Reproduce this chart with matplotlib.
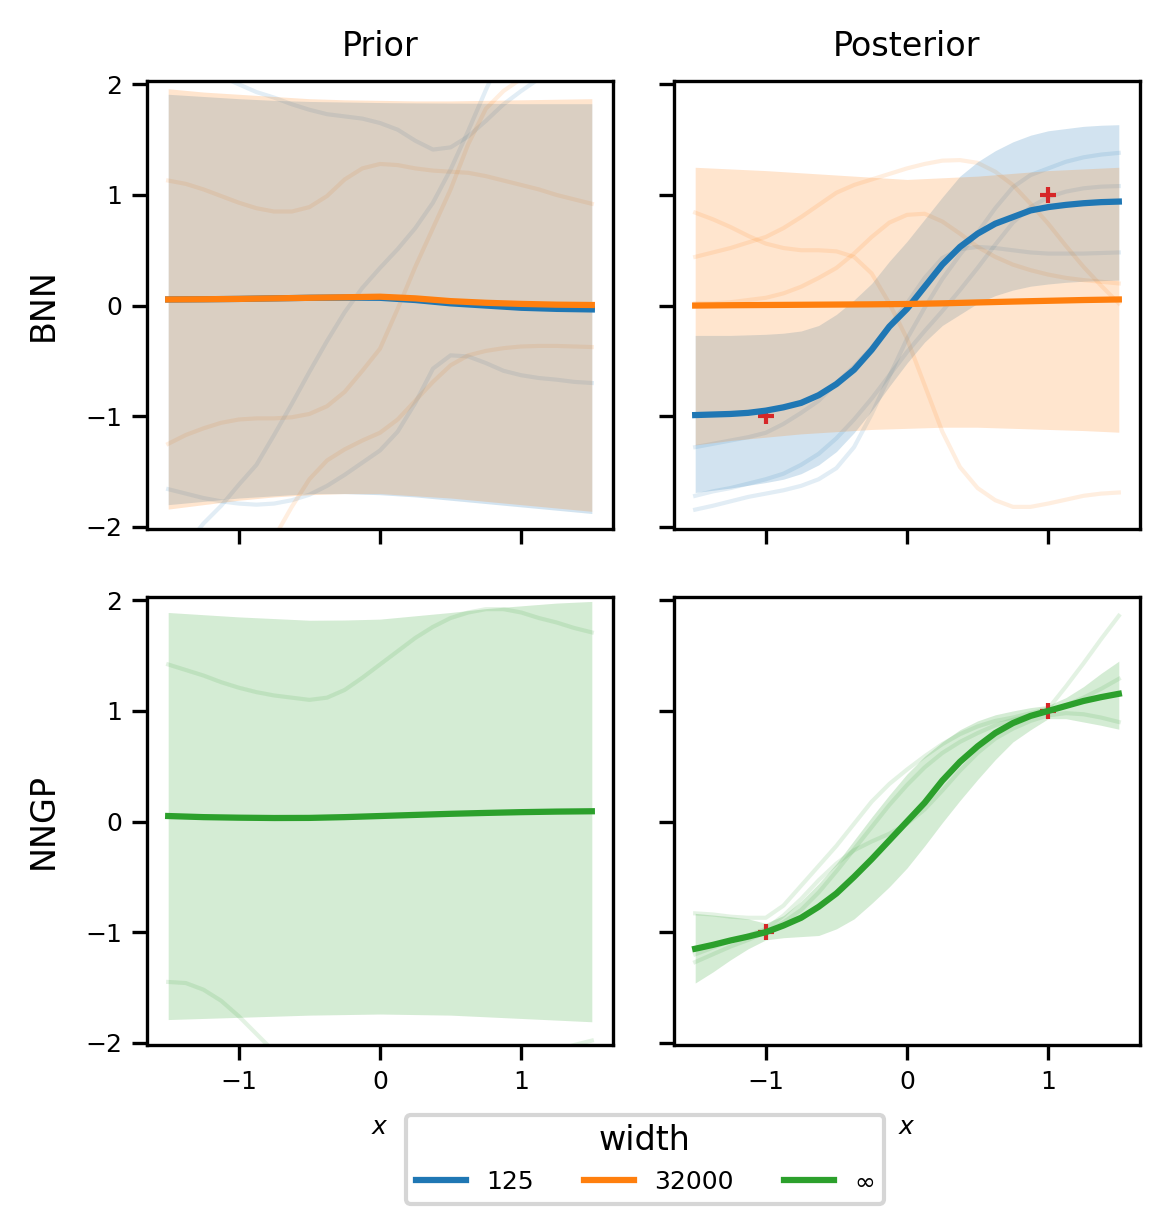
import numpy as np
import matplotlib
matplotlib.use("Agg")
import matplotlib.pyplot as plt

# ---------------- data ----------------
x13 = [-1.5, -1.25, -1.0, -0.75, -0.5, -0.25, 0.0, 0.25, 0.5, 0.75, 1.0, 1.25, 1.5]
x25 = [-1.5, -1.375, -1.25, -1.125, -1.0, -0.875, -0.75, -0.625, -0.5, -0.375, -0.25, -0.125,
       0.0, 0.125, 0.25, 0.375, 0.5, 0.625, 0.75, 0.875, 1.0, 1.125, 1.25, 1.375, 1.5]

x_obs = [-1.0, 1.0]
y_obs = [-1.0, 1.0]

width_labels = ["125", "32000", "$\\infty$"]
row_labels = ["BNN", "NNGP"]
col_titles = ["Prior", "Posterior"]

# BNN prior (width 125 / 32000)
prior_mean_125 = [0.055, 0.057, 0.06, 0.065, 0.07, 0.072, 0.07, 0.05, 0.02, 0.0, -0.02, -0.03, -0.035]
prior_upper_125 = [1.91, 1.89, 1.87, 1.855, 1.845, 1.84, 1.835, 1.832, 1.83, 1.828, 1.825, 1.825, 1.825]
prior_lower_125 = [-1.80, -1.77, -1.74, -1.72, -1.70, -1.70, -1.71, -1.73, -1.76, -1.79, -1.82, -1.85, -1.88]
prior_mean_32000 = [0.055, 0.057, 0.06, 0.065, 0.07, 0.075, 0.08, 0.065, 0.04, 0.025, 0.015, 0.008, 0.005]
prior_upper_32000 = [1.96, 1.93, 1.91, 1.89, 1.87, 1.86, 1.855, 1.85, 1.85, 1.855, 1.86, 1.865, 1.87]
prior_lower_32000 = [-1.84, -1.80, -1.76, -1.73, -1.71, -1.70, -1.70, -1.72, -1.74, -1.77, -1.80, -1.83, -1.86]

prior_samples_125 = [
    [2.3, 2.22, 2.15, 2.07, 2.0, 1.93, 1.88, 1.82, 1.77, 1.73, 1.71, 1.69, 1.65,
     1.59, 1.49, 1.41, 1.43, 1.53, 1.67, 1.82, 1.94, 2.05, 2.15, 2.25, 2.35],
    [-2.4, -2.17, -1.97, -1.81, -1.62, -1.44, -1.17, -0.89, -0.60, -0.32, -0.06, 0.16, 0.34,
     0.51, 0.70, 0.93, 1.23, 1.58, 1.95, 2.3, 2.6, 2.85, 3.0, 3.1, 3.2],
    [-1.66, -1.70, -1.74, -1.77, -1.79, -1.80, -1.79, -1.76, -1.71, -1.63, -1.53, -1.42, -1.31,
     -1.14, -0.88, -0.57, -0.45, -0.46, -0.52, -0.59, -0.63, -0.655, -0.67, -0.69, -0.70],
]
prior_samples_32000 = [
    [1.13, 1.10, 1.05, 0.99, 0.93, 0.88, 0.85, 0.85, 0.89, 0.99, 1.14, 1.24, 1.28,
     1.27, 1.24, 1.22, 1.21, 1.20, 1.17, 1.13, 1.09, 1.05, 1.00, 0.96, 0.92],
    [-1.25, -1.17, -1.11, -1.06, -1.03, -1.02, -1.02, -1.01, -0.98, -0.91, -0.78, -0.59, -0.39,
     -0.03, 0.35, 0.70, 1.05, 1.46, 1.78, 1.94, 2.05, 2.12, 2.18, 2.24, 2.3],
    [-3.4, -3.15, -2.9, -2.65, -2.45, -2.25, -2.1, -1.82, -1.57, -1.40, -1.30, -1.22, -1.15,
     -1.03, -0.86, -0.69, -0.54, -0.45, -0.41, -0.385, -0.37, -0.365, -0.365, -0.37, -0.375],
]

# BNN posterior
post_mean_125 = [-0.99, -0.985, -0.98, -0.97, -0.95, -0.92, -0.88, -0.81, -0.71, -0.58, -0.40, -0.19,
                 -0.03, 0.17, 0.37, 0.53, 0.65, 0.74, 0.80, 0.86, 0.89, 0.91, 0.925, 0.935, 0.94]
post_upper_125 = [-0.27, -0.27, -0.27, -0.265, -0.26, -0.25, -0.23, -0.18, -0.08, 0.05, 0.20, 0.40,
                  0.58, 0.78, 0.98, 1.17, 1.30, 1.40, 1.48, 1.54, 1.58, 1.60, 1.62, 1.63, 1.635]
post_lower_125 = [-1.69, -1.67, -1.65, -1.625, -1.60, -1.57, -1.52, -1.44, -1.32, -1.15, -0.95, -0.73,
                  -0.52, -0.33, -0.18, -0.08, 0.02, 0.09, 0.14, 0.175, 0.195, 0.21, 0.22, 0.225, 0.23]
post_mean_32000 = [0.0, 0.003, 0.005, 0.007, 0.009, 0.011, 0.014, 0.02, 0.028, 0.036, 0.043, 0.05, 0.055]
post_upper_32000 = [1.25, 1.235, 1.22, 1.20, 1.18, 1.16, 1.14, 1.155, 1.17, 1.195, 1.22, 1.235, 1.25]
post_lower_32000 = [-1.26, -1.22, -1.19, -1.16, -1.14, -1.12, -1.11, -1.10, -1.10, -1.11, -1.12, -1.13, -1.145]

post_samples_125 = [
    [-1.28, -1.25, -1.22, -1.19, -1.15, -1.07, -0.97, -0.86, -0.70, -0.55, -0.38, -0.18, 0.02,
     0.25, 0.43, 0.51, 0.53, 0.52, 0.50, 0.48, 0.47, 0.47, 0.47, 0.475, 0.48],
    [-1.72, -1.68, -1.65, -1.61, -1.57, -1.52, -1.44, -1.34, -1.20, -1.03, -0.84, -0.63, -0.42,
     -0.23, -0.05, 0.14, 0.34, 0.55, 0.75, 0.89, 0.98, 1.03, 1.06, 1.075, 1.08],
    [-1.845, -1.81, -1.77, -1.73, -1.70, -1.67, -1.63, -1.57, -1.47, -1.28, -0.98, -0.64, -0.30,
     -0.02, 0.24, 0.46, 0.66, 0.88, 1.07, 1.18, 1.24, 1.30, 1.34, 1.365, 1.38],
]
post_samples_32000 = [
    [0.84, 0.78, 0.71, 0.63, 0.56, 0.52, 0.50, 0.50, 0.49, 0.44, 0.29, 0.02, -0.30,
     -0.72, -1.14, -1.46, -1.65, -1.76, -1.82, -1.82, -1.79, -1.755, -1.72, -1.70, -1.69],
    [0.44, 0.48, 0.52, 0.57, 0.62, 0.70, 0.80, 0.91, 1.02, 1.09, 1.14, 1.19, 1.24,
     1.28, 1.31, 1.315, 1.29, 1.21, 1.09, 0.92, 0.74, 0.54, 0.35, 0.18, 0.02],
    [0.02, 0.02, 0.03, 0.05, 0.07, 0.11, 0.17, 0.25, 0.34, 0.47, 0.62, 0.75, 0.82,
     0.83, 0.76, 0.65, 0.53, 0.44, 0.37, 0.32, 0.28, 0.25, 0.23, 0.215, 0.20],
]

# NNGP prior
prior_mean_inf = [0.05, 0.04, 0.035, 0.032, 0.033, 0.04, 0.05, 0.06, 0.07, 0.078, 0.085, 0.09, 0.093]
prior_upper_inf = [1.89, 1.87, 1.85, 1.835, 1.82, 1.822, 1.83, 1.86, 1.89, 1.925, 1.95, 1.975, 1.99]
prior_lower_inf = [-1.79, -1.78, -1.77, -1.76, -1.75, -1.745, -1.74, -1.745, -1.75, -1.765, -1.78, -1.795, -1.81]
prior_samples_inf = [
    [1.42, 1.37, 1.32, 1.26, 1.21, 1.17, 1.14, 1.12, 1.10, 1.12, 1.19, 1.30, 1.42,
     1.54, 1.66, 1.76, 1.84, 1.89, 1.92, 1.92, 1.89, 1.84, 1.80, 1.75, 1.71],
    [-1.45, -1.46, -1.52, -1.62, -1.76, -1.92, -2.08, -2.25, -2.4, -2.55, -2.65, -2.72, -2.75,
     -2.75, -2.72, -2.68, -2.62, -2.53, -2.43, -2.32, -2.22, -2.14, -2.07, -2.02, -1.98],
]

# NNGP posterior
post_mean_inf = [-1.15, -1.115, -1.075, -1.04, -1.0, -0.94, -0.87, -0.77, -0.65, -0.50, -0.34, -0.17,
                 0.0, 0.17, 0.37, 0.54, 0.68, 0.80, 0.89, 0.955, 1.0, 1.045, 1.09, 1.125, 1.155]
post_upper_inf = [-0.83, -0.845, -0.86, -0.88, -0.92, -0.85, -0.72, -0.56, -0.38, -0.17, 0.04, 0.24,
                  0.43, 0.59, 0.72, 0.83, 0.91, 0.965, 1.0, 1.03, 1.05, 1.12, 1.22, 1.34, 1.45]
post_lower_inf = [-1.46, -1.36, -1.25, -1.15, -1.07, -1.05, -1.04, -1.03, -0.97, -0.88, -0.74, -0.59,
                  -0.42, -0.22, -0.01, 0.19, 0.38, 0.56, 0.72, 0.83, 0.93, 0.93, 0.90, 0.87, 0.835]
post_samples_inf = [
    [-0.83, -0.84, -0.86, -0.87, -0.87, -0.76, -0.58, -0.40, -0.22, -0.02, 0.18, 0.34, 0.47,
     0.59, 0.70, 0.79, 0.86, 0.91, 0.94, 0.98, 1.02, 1.22, 1.43, 1.65, 1.86],
    [-1.27, -1.20, -1.13, -1.07, -1.00, -0.91, -0.80, -0.64, -0.45, -0.25, -0.05, 0.15, 0.33,
     0.49, 0.62, 0.72, 0.80, 0.87, 0.92, 0.96, 0.99, 1.05, 1.12, 1.20, 1.29],
    [-1.20, -1.14, -1.08, -1.03, -0.97, -0.85, -0.70, -0.53, -0.38, -0.26, -0.18, -0.11, -0.02,
     0.11, 0.28, 0.46, 0.62, 0.75, 0.84, 0.91, 0.96, 0.98, 0.97, 0.94, 0.90],
]

C125, C32K, CINF = "tab:blue", "tab:orange", "tab:green"

# ---------------- figure ----------------
fig, axes = plt.subplots(2, 2, figsize=(3.9, 1232 / 300), dpi=300, sharex=True, sharey=True)
fig.subplots_adjust(left=147 / 1170, right=1140 / 1170, top=1 - 81 / 1232, bottom=1 - 1045 / 1232,
                    wspace=61 / 466, hspace=68 / 448)


def draw(ax, xs, samples, xb, lower, upper, color):
    for s in samples:
        ax.plot(xs, s, color=color, alpha=0.13, lw=1.0, zorder=1)
    ax.fill_between(xb, lower, upper, color=color, alpha=0.2, lw=0, zorder=2)


def mean_line(ax, xm, mean, color):
    ax.plot(xm, mean, color=color, lw=1.5, zorder=4)


ax = axes[0, 0]
draw(ax, x25, prior_samples_125, x13, prior_lower_125, prior_upper_125, C125)
draw(ax, x25, prior_samples_32000, x13, prior_lower_32000, prior_upper_32000, C32K)
mean_line(ax, x13, prior_mean_125, C125)
mean_line(ax, x13, prior_mean_32000, C32K)

ax = axes[0, 1]
draw(ax, x25, post_samples_125, x25, post_lower_125, post_upper_125, C125)
draw(ax, x25, post_samples_32000, x13, post_lower_32000, post_upper_32000, C32K)
ax.plot(x_obs, y_obs, "+", color="tab:red", ms=4, mew=1.0, zorder=3)
mean_line(ax, x25, post_mean_125, C125)
mean_line(ax, x13, post_mean_32000, C32K)

ax = axes[1, 0]
draw(ax, x25, prior_samples_inf, x13, prior_lower_inf, prior_upper_inf, CINF)
mean_line(ax, x13, prior_mean_inf, CINF)

ax = axes[1, 1]
draw(ax, x25, post_samples_inf, x25, post_lower_inf, post_upper_inf, CINF)
ax.plot(x_obs, y_obs, "+", color="tab:red", ms=4, mew=1.0, zorder=3)
mean_line(ax, x25, post_mean_inf, CINF)

for a in axes.flat:
    a.set_ylim(-2.02, 2.03)
    a.set_xticks([-1, 0, 1])
    a.set_yticks([-2, -1, 0, 1, 2])
    a.tick_params(labelsize=6, width=0.8, length=3.5, pad=2.5)

for j, t in enumerate(col_titles):
    axes[0, j].set_title(t, fontsize=8, pad=6)
for i, r in enumerate(row_labels):
    axes[i, 0].set_ylabel(r, fontsize=8, labelpad=6)
for j in range(2):
    axes[1, j].set_xlabel("$x$", fontsize=6, labelpad=5)

handles = [plt.Line2D([], [], color=c, lw=1.5) for c in (C125, C32K, CINF)]
fig.legend(handles, width_labels, title="width", ncol=3, fontsize=6, title_fontsize=8,
           loc="upper center", bbox_to_anchor=(645 / 1170, 1 - 1102 / 1232),
           columnspacing=2.0, handlelength=2.0)

fig.savefig("out.png", dpi=300)
